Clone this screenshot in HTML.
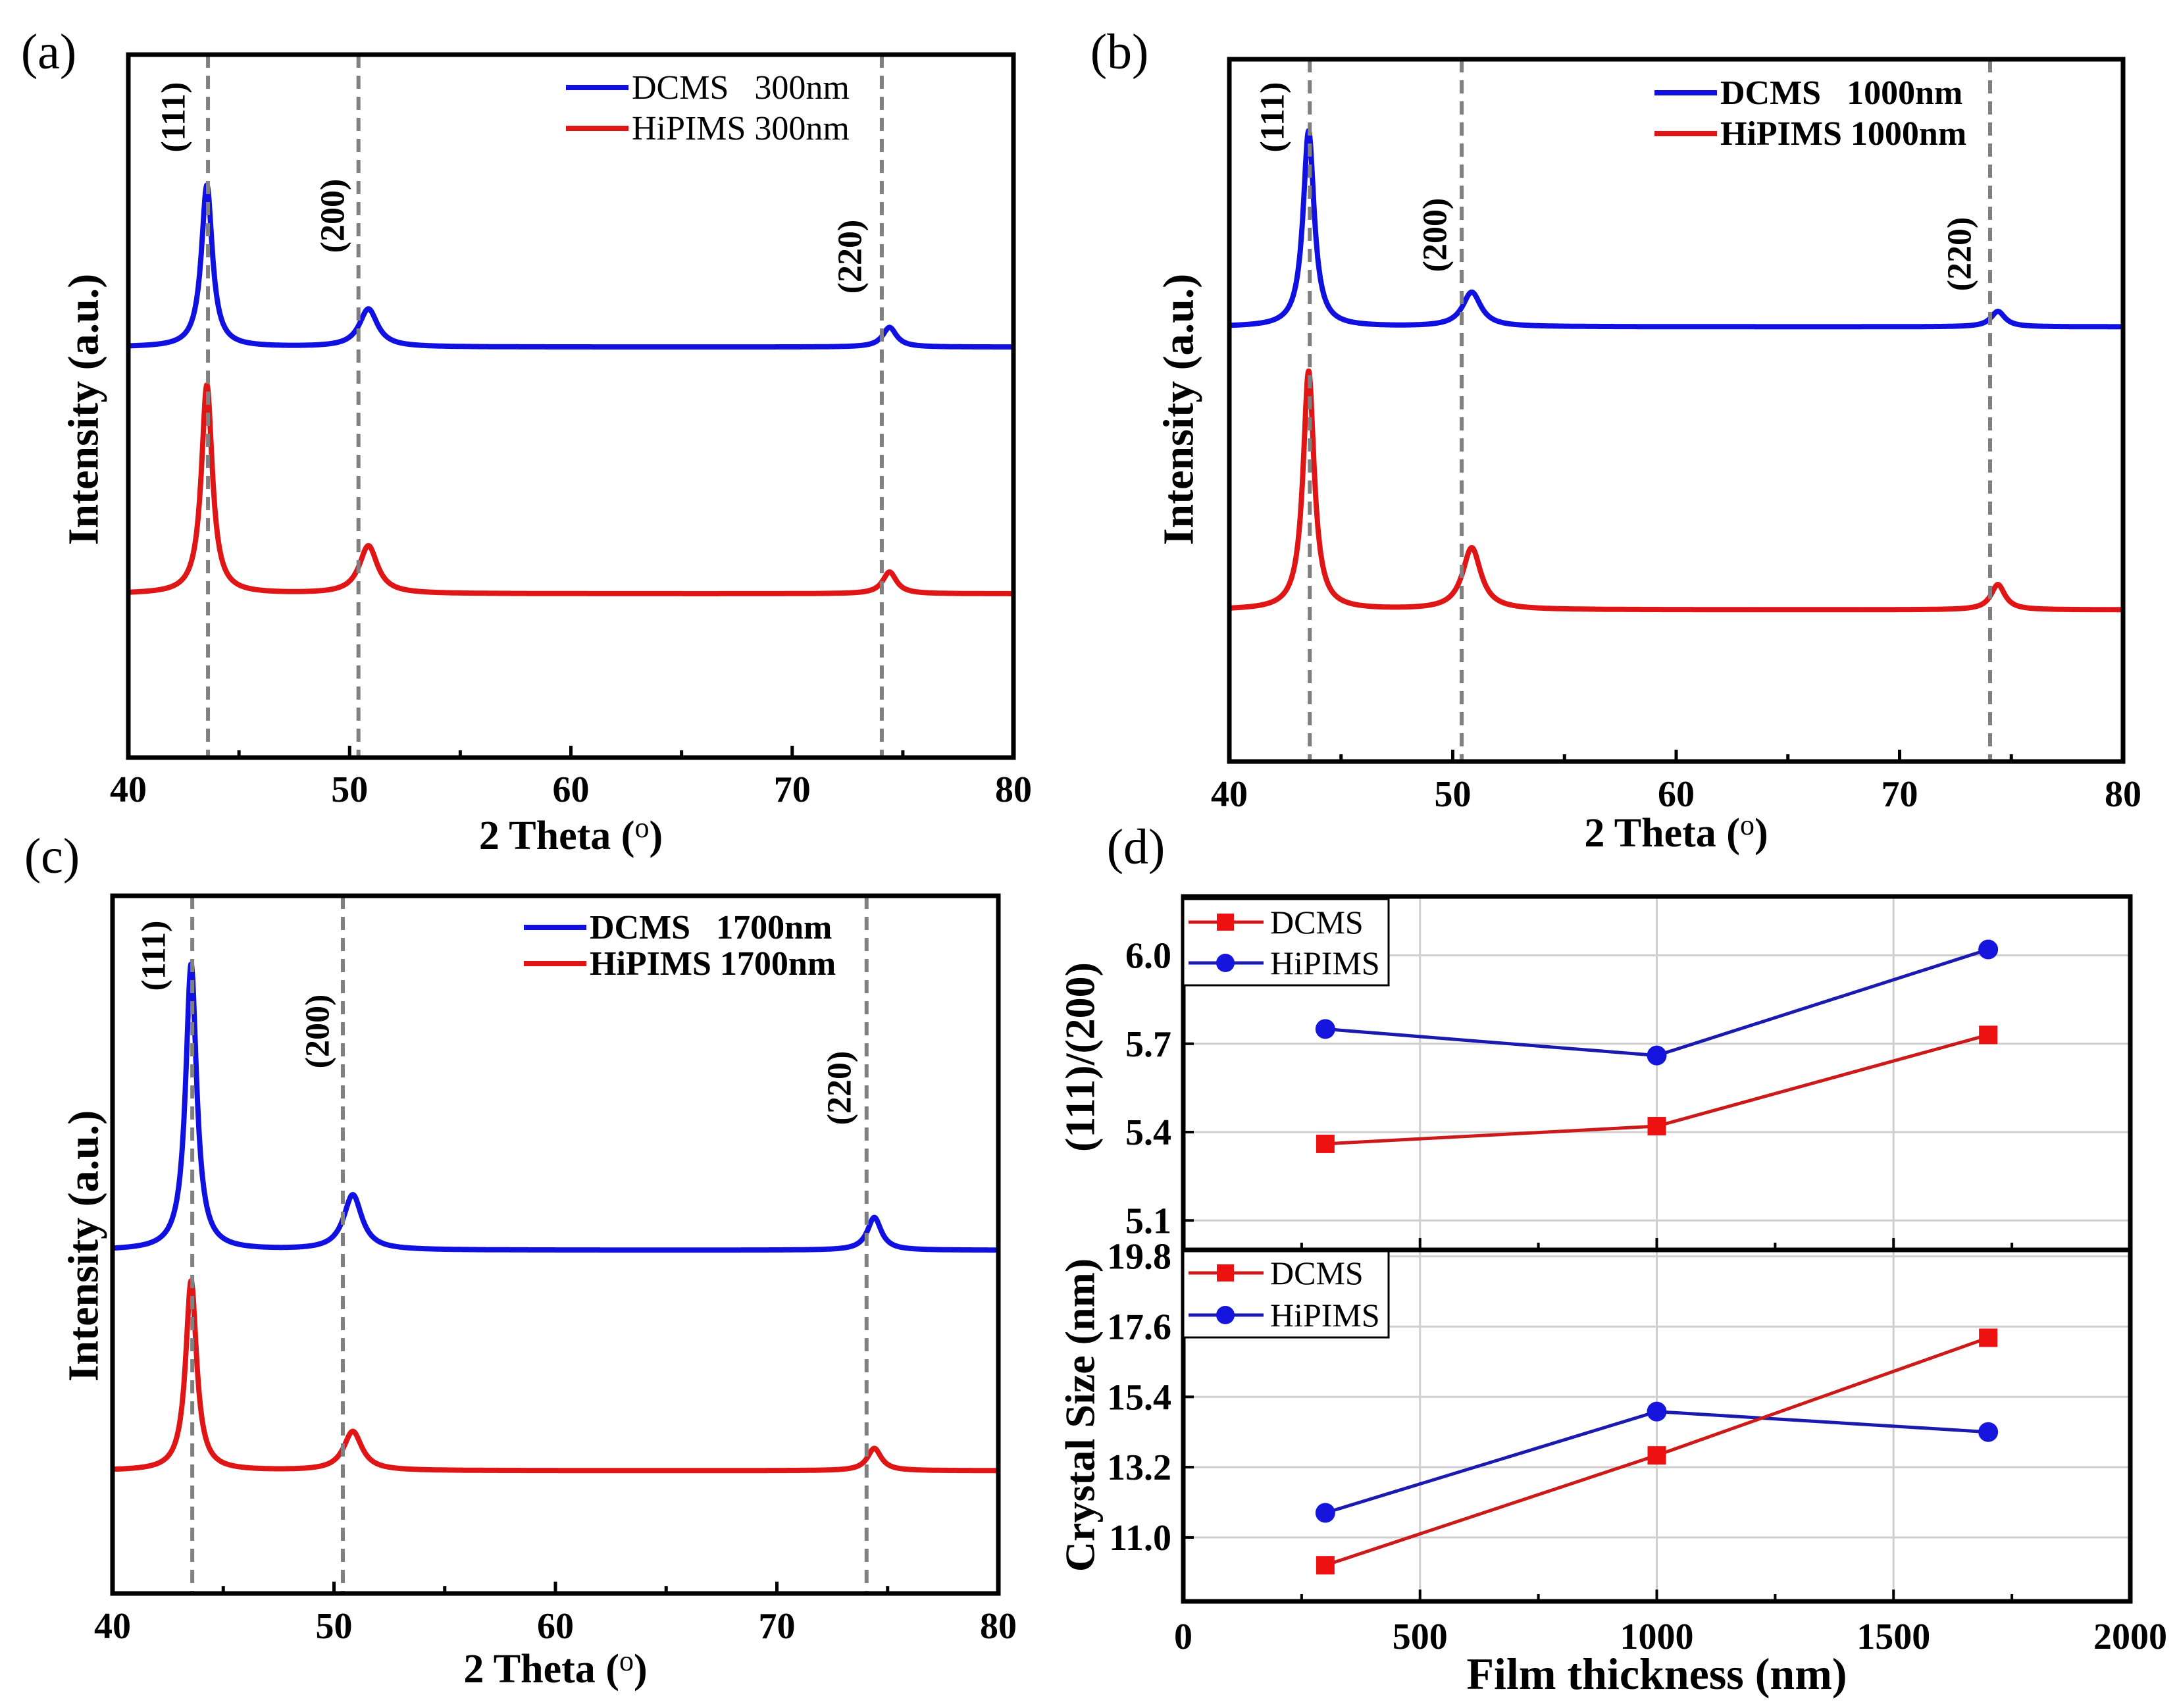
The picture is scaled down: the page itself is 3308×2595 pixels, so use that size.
<!DOCTYPE html>
<html><head><meta charset="utf-8">
<style>
html,body{margin:0;padding:0;background:#fff;}
svg{display:block;}
text{font-family:"Liberation Serif",serif;}
</style></head>
<body>
<svg id="fig" width="3308" height="2595" viewBox="0 0 3308 2595" xmlns="http://www.w3.org/2000/svg"></svg>
<script>
// ---------- XRD data (intensity in panel % units) ----------
const xrdPanels = ["a","b","c"];
const peakPositions = [43.55, 50.85, 74.4];
const peakWidths = [0.3, 0.5, 0.38];
const dashPositions = [43.6, 50.4, 74.05];
const legendA = ["DCMS\u00a0\u00a0\u00a0300nm", "HiPIMS 300nm"];
const legendB = ["DCMS\u00a0\u00a0\u00a01000nm", "HiPIMS 1000nm"];
const legendC = ["DCMS\u00a0\u00a0\u00a01700nm", "HiPIMS 1700nm"];
const baseA = [58.4, 23.3];
const peaksA_dcms = [81.4, 63.8, 61.2];
const peaksA_hip = [53.0, 30.1, 26.4];
const baseB = [61.9, 21.6];
const peaksB_dcms = [89.8, 66.8, 64.1];
const peaksB_hip = [55.6, 30.4, 25.2];
const baseC = [49.2, 17.6];
const peaksC_dcms = [90.2, 57.1, 53.9];
const peaksC_hip = [44.8, 23.2, 20.8];
const xTicks2T = [40, 50, 60, 70, 80];
// ---------- panel (d) data ----------
const thickness = [300, 1000, 1700];
const ratioDCMS = [5.36, 5.42, 5.73];
const ratioHiPIMS = [5.75, 5.66, 6.02];
const sizeDCMS = [10.13, 13.57, 17.25];
const sizeHiPIMS = [11.77, 14.94, 14.30];
const ratioTicks = [5.1, 5.4, 5.7, 6.0];
const sizeTicks = [11.0, 13.2, 15.4, 17.6, 19.8];
const thickTicks = [0, 500, 1000, 1500, 2000];

const NS = "http://www.w3.org/2000/svg";
const svg = document.getElementById("fig");
function el(tag, attrs, parent, txt){
  const e = document.createElementNS(NS, tag);
  for (const k in attrs) e.setAttribute(k, attrs[k]);
  if (txt !== undefined) e.textContent = txt;
  (parent||svg).appendChild(e);
  return e;
}

const layouts = [
  {L:195,R:1540,T:83,B:1151, base:baseA, dc:peaksA_dcms, hp:peaksA_hip, leg:legendA, legBold:false,
   legX:860, legY:[133,195], lab:[[264,178],[506,328],[1292,390]], ylab:[127,622], tickY:1218, titleY:1290, pl:[74,78], plab:"(a)"},
  {L:1868,R:3226,T:90,B:1157, base:baseB, dc:peaksB_dcms, hp:peaksB_hip, leg:legendB, legBold:true,
   legX:2514, legY:[141,203], lab:[[1934,178],[2181,357],[2978,386]], ylab:[1791,622], tickY:1225, titleY:1286, pl:[1701,78], plab:"(b)"},
  {L:171,R:1517,T:1361,B:2421, base:baseC, dc:peaksC_dcms, hp:peaksC_hip, leg:legendC, legBold:true,
   legX:796, legY:[1409,1464], lab:[[234,1452],[483,1567],[1276,1653]], ylab:[127,1893], tickY:2489, titleY:2556, pl:[79,1300], plab:"(c)"}
];

function spectrum(base, peaks, x){
  let v = base;
  for (let i=0;i<peakPositions.length;i++){
    const h = peaks[i]-base, w = peakWidths[i], d = x-peakPositions[i];
    v += h/(1+(d/w)*(d/w));
  }
  return v;
}

layouts.forEach((p, idx) => {
  const g = el("g", {}, svg);
  
  
  const sx = v => p.L + (v-40)/40*(p.R-p.L);
  const sy = v => p.B - v/100*(p.B-p.T);
  [[p.dc,p.base[0],"#1010e0","dcms"],[p.hp,p.base[1],"#e01515","hipims"]].forEach(s=>{
    let d = "";
    for (let x=40; x<=80.0001; x+=0.02){
      d += (d?"L":"M") + sx(x).toFixed(1) + "," + sy(spectrum(s[1], s[0], x)).toFixed(1);
    }
    const path = el("path", {d:d, fill:"none", stroke:s[2], "stroke-width":8, "stroke-linejoin":"round"}, g);
    
    
  });
  dashPositions.forEach((v,i)=>{
    const ln = el("line", {x1:sx(v), x2:sx(v), y1:p.T, y2:p.B, stroke:"#808080", "stroke-width":6, "stroke-dasharray":"20 12"}, g);
    
    
  });
  const fr = el("rect", {x:p.L, y:p.T, width:p.R-p.L, height:p.B-p.T, fill:"none", stroke:"#000", "stroke-width":7}, g);
  
  
  for (let v=40; v<=80; v+=5){
    const len = (v%10===0)?18:11;
    el("line", {x1:sx(v), x2:sx(v), y1:p.B, y2:p.B-len, stroke:"#000", "stroke-width":5}, g);
  }
  xTicks2T.forEach(v=>{
    const t = el("text", {x:sx(v), y:p.tickY, "text-anchor":"middle", "font-size":56, "font-weight":"bold"}, g, String(v));
    
    
  });
  const xt = el("text", {x:(p.L+p.R)/2, y:p.titleY, "text-anchor":"middle", "font-size":62, "font-weight":"bold"}, g, "2 Theta (");
  
  
  el("tspan", {"font-weight":"normal", "font-size":44, dy:-18}, xt, "o");
  el("tspan", {dy:18}, xt, ")");
  const yt = el("text", {x:p.ylab[0], y:p.ylab[1], "text-anchor":"middle", "font-size":66, "font-weight":"bold", transform:`rotate(-90 ${p.ylab[0]} ${p.ylab[1]})`, "dominant-baseline":"central"}, g, "Intensity (a.u.)");
  
  
  ["(111)","(200)","(220)"].forEach((s,i)=>{
    const [x,y] = p.lab[i];
    const t = el("text", {x:x, y:y, "text-anchor":"middle", "font-size":52, "font-weight":"bold", "dominant-baseline":"central", transform:`rotate(-90 ${x} ${y})`}, g, s);
    
    
  });
  ["#1010e0","#e01515"].forEach((c,i)=>{
    const y = p.legY[i];
    el("line", {x1:p.legX, x2:p.legX+95, y1:y, y2:y, stroke:c, "stroke-width":8}, g);
    const t = el("text", {x:p.legX+100, y:y+17, "font-size":52, "font-weight":p.legBold?"bold":"normal"}, g, p.leg[i]);
    
    
  });
  const pl = el("text", {x:p.pl[0], y:p.pl[1]+26, "text-anchor":"middle", "font-size":76}, g, p.plab);
  
  
});

// ---------- panel (d) ----------
const D = {L:1798, R:3237, T:1362, M:1899, B:2433};
const dx = v => D.L + v/2000*(D.R-D.L);
const dyTop = v => D.M - (v-5.0)/1.2*(D.M-D.T);
const dyBot = v => D.B - (v-9.0)/11.0*(D.B-D.M);
const gd = el("g", {}, svg);



[500,1000,1500].forEach(v=>{
  el("line", {x1:dx(v), x2:dx(v), y1:D.T, y2:D.B, stroke:"#cfcfcf", "stroke-width":3}, gd);
});
ratioTicks.forEach(v=> el("line", {x1:D.L, x2:D.R, y1:dyTop(v), y2:dyTop(v), stroke:"#cfcfcf", "stroke-width":3}, gd));
sizeTicks.forEach(v=> el("line", {x1:D.L, x2:D.R, y1:dyBot(v), y2:dyBot(v), stroke:"#cfcfcf", "stroke-width":3}, gd));

function series(xs, ys, fy, color, marker, name){
  let d = "";
  xs.forEach((x,i)=>{ d += (i?"L":"M") + dx(x) + "," + fy(ys[i]); });
  const pth = el("path", {d:d, fill:"none", stroke:color, "stroke-width":5}, gd);
  
  
  xs.forEach((x,i)=>{
    let m;
    if (marker==="sq") m = el("rect", {x:dx(x)-14, y:fy(ys[i])-14, width:28, height:28, fill:"#ee1111"}, gd);
    else m = el("circle", {cx:dx(x), cy:fy(ys[i]), r:15, fill:"#1515dd"}, gd);
    
    
  });
}
series(thickness, ratioHiPIMS, dyTop, "#1a1ab0", "ci", "ratio-hipims");
series(thickness, ratioDCMS, dyTop, "#cc1a1a", "sq", "ratio-dcms");
series(thickness, sizeHiPIMS, dyBot, "#1a1ab0", "ci", "size-hipims");
series(thickness, sizeDCMS, dyBot, "#cc1a1a", "sq", "size-dcms");

el("rect", {x:D.L, y:D.T, width:D.R-D.L, height:D.B-D.T, fill:"none", stroke:"#000", "stroke-width":7}, gd);
el("line", {x1:D.L, x2:D.R, y1:D.M, y2:D.M, stroke:"#000", "stroke-width":7}, gd);
for (let v=0; v<=2000; v+=250){
  const len = (v%500===0)?18:11;
  el("line", {x1:dx(v), x2:dx(v), y1:D.B, y2:D.B-len, stroke:"#000", "stroke-width":4}, gd);
  el("line", {x1:dx(v), x2:dx(v), y1:D.M, y2:D.M-len, stroke:"#000", "stroke-width":4}, gd);
}
thickTicks.forEach(v=>{
  const t = el("text", {x:dx(v), y:2505, "text-anchor":"middle", "font-size":56, "font-weight":"bold"}, gd, String(v));
  
  
});
ratioTicks.forEach(v=>{
  el("line", {x1:D.L, x2:D.L+16, y1:dyTop(v), y2:dyTop(v), stroke:"#000", "stroke-width":4}, gd);
  const t = el("text", {x:1780, y:dyTop(v)+19, "text-anchor":"end", "font-size":56, "font-weight":"bold"}, gd, v.toFixed(1));
  
  
});
sizeTicks.forEach(v=>{
  el("line", {x1:D.L, x2:D.L+16, y1:dyBot(v), y2:dyBot(v), stroke:"#000", "stroke-width":4}, gd);
  const t = el("text", {x:1780, y:dyBot(v)+19, "text-anchor":"end", "font-size":56, "font-weight":"bold"}, gd, v.toFixed(1));
  
  
});
const xtd = el("text", {x:(D.L+D.R)/2, y:2566, "text-anchor":"middle", "font-size":68, "font-weight":"bold"}, gd, "Film thickness (nm)");


const yt1 = el("text", {x:1641, y:1606, "text-anchor":"middle", "dominant-baseline":"central", "font-size":64, "font-weight":"bold", transform:"rotate(-90 1641 1606)"}, gd, "(111)/(200)");


const yt2 = el("text", {x:1641, y:2150, "text-anchor":"middle", "dominant-baseline":"central", "font-size":64, "font-weight":"bold", transform:"rotate(-90 1641 2150)"}, gd, "Crystal Size (nm)");



[[1366,1401,1463],[1901,1934,1998]].forEach((L,k)=>{
  const box = el("rect", {x:D.L, y:L[0], width:312, height:131, fill:"#fff", stroke:"#000", "stroke-width":3}, gd);
  
  
  el("line", {x1:1806, x2:1920, y1:L[1], y2:L[1], stroke:"#cc1a1a", "stroke-width":5}, gd);
  el("rect", {x:1849, y:L[1]-13, width:26, height:26, fill:"#ee1111"}, gd);
  const t1 = el("text", {x:1930, y:L[1]+17, "font-size":50}, gd, "DCMS");
  
  
  el("line", {x1:1806, x2:1920, y1:L[2], y2:L[2], stroke:"#1a1ab0", "stroke-width":5}, gd);
  el("circle", {cx:1862, cy:L[2], r:14, fill:"#1515dd"}, gd);
  const t2 = el("text", {x:1930, y:L[2]+17, "font-size":50}, gd, "HiPIMS");
  
  
});
const pld = el("text", {x:1726, y:1312, "text-anchor":"middle", "font-size":76}, gd, "(d)");


</script>
</body></html>
